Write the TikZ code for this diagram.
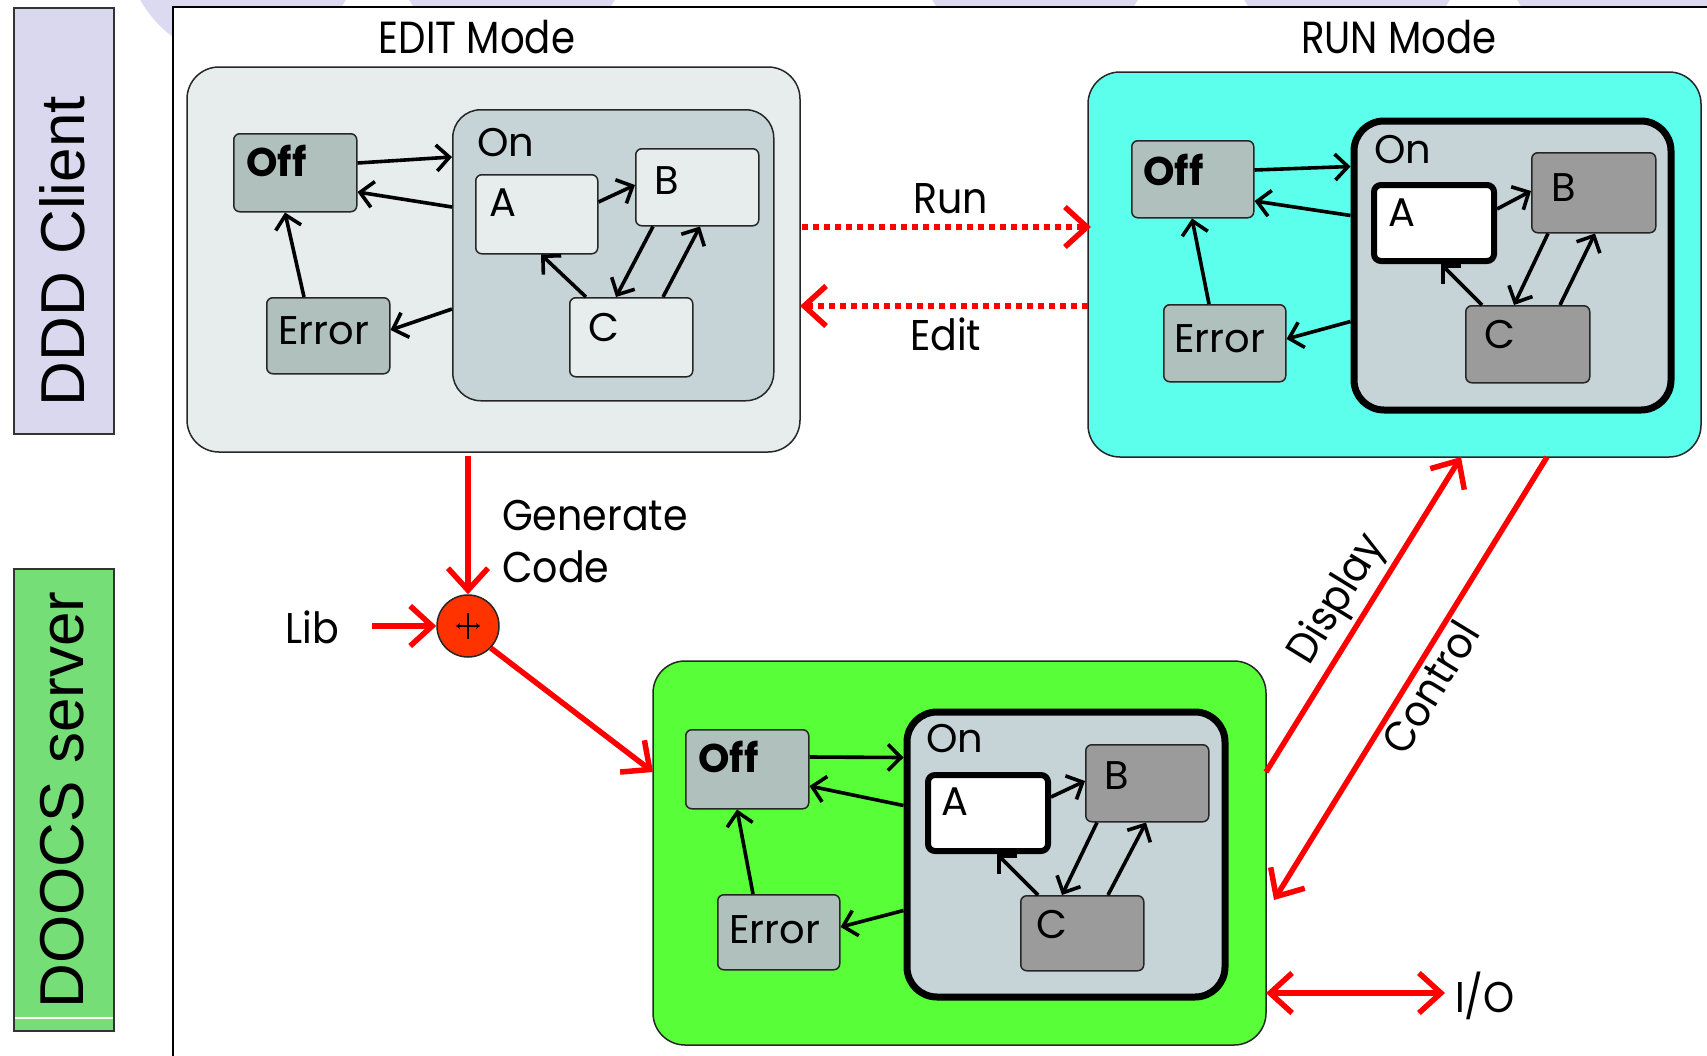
\documentclass[tikz,border=0pt]{standalone}
\usepackage{fontspec}
\setmainfont{Poppins}
\newfontfamily\arialf{Liberation Sans}
\newfontfamily\condf{Poppins}[FakeStretch=0.86]
\newfontfamily\outf{Poppins}[FakeStretch=0.92]
\usetikzlibrary{arrows.meta,calc}
\definecolor{lav}{HTML}{DAD8EE}
\definecolor{lavbg}{HTML}{DCDAF0}
\definecolor{doocs}{HTML}{76DE76}
\definecolor{editbg}{HTML}{E7EDED}
\definecolor{onfill}{HTML}{C6D4D8}
\definecolor{offfill}{HTML}{B0C0BD}
\definecolor{runbg}{HTML}{5CFFEB}
\definecolor{srvbg}{HTML}{58FF38}
\definecolor{dkgray}{HTML}{9B9B9B}
\definecolor{plusred}{HTML}{FF3300}
\definecolor{arrred}{HTML}{FF0000}
\tikzset{
  panel/.style={draw=black!85, line width=1.5pt, rounded corners=32pt, anchor=north west, inner sep=0pt, outer sep=0pt},
  onthin/.style={draw=black!85, line width=1.5pt, rounded corners=28pt, fill=onfill, anchor=north west, inner sep=0pt},
  onthick/.style={draw=black, line width=7pt, rounded corners=30pt, fill=onfill, anchor=north west, inner sep=0pt},
  sbox/.style={draw=black!85, line width=1.5pt, rounded corners=6pt, anchor=north west, inner sep=0pt},
  abox/.style={draw=black, line width=6pt, rounded corners=7pt, fill=white, anchor=north west, inner sep=0pt},
  lbl/.style={anchor=base west, inner sep=0pt, font=\fontsize{40}{48}\selectfont},
  blbl/.style={anchor=base west, inner sep=0pt, font=\fontsize{40}{48}\selectfont\bfseries},
  blk/.style={-{Straight Barb[length=13pt,width=26pt]}, line width=3.6pt},
  redarr/.style={draw=arrred, line width=5.5pt, -{Straight Barb[length=22pt,width=40pt]}},
  reddot/.style={redarr, dash pattern=on 6pt off 5pt},
  outlbl/.style={inner sep=0pt, font=\outf\fontsize{43}{52}\selectfont},
  sidebox/.style={draw=black!80, line width=2pt, anchor=north west, inner sep=0pt, minimum width=100pt},
  sidetxt/.style={rotate=90, inner sep=0pt, font=\arialf\fontsize{62}{70}\selectfont},
}
\begin{document}
\begin{tikzpicture}[x=1pt,y=-1pt]
\useasboundingbox (0,0) rectangle (1707,1055);
\fill[white] (0,0) rectangle (1707,1055);
% background decoration
\fill[lavbg] (243,-58) circle[radius=118pt];
\fill[lavbg] (512,-58) circle[radius=118pt];
\fill[lavbg] (1035,-58) circle[radius=118pt];
\fill[lavbg] (1347,-58) circle[radius=118pt];
\fill[lavbg] (1620,-58) circle[radius=118pt];
% frame
\fill[white] (173,7) rectangle (1720,1070);
\draw[line width=2pt] (173,1060) -- (173,7) -- (1720,7);
% side labels
\node[sidebox, fill=lav, minimum height=426pt] (dddbox) at (13,7) {};
\node[sidetxt] (dddtxt) at (62,251) {DDD Client};
\node[sidebox, fill=doocs, minimum height=462pt] (doocsbox) at (13,568) {};
\draw[white, line width=1.5pt] ($(doocsbox.south west)+(2,-14)$) -- ($(doocsbox.south east)+(-2,-14)$);
\node[sidetxt] (doocstxt) at (62,800) {DOOCS server};
% titles
\node[anchor=base, inner sep=0pt, font=\condf\fontsize{45}{52}\selectfont] (edittitle) at (477,53) {EDIT Mode};
\node[anchor=base, inner sep=0pt, font=\condf\fontsize{45}{52}\selectfont] (runtitle) at (1399,53) {RUN Mode};

% ================= EDIT panel
\node[panel, fill=editbg, minimum width=613pt, minimum height=385pt] (epanel) at (187,67) {};
\node[onthin, minimum width=321pt, minimum height=291pt] (eon) at (452,109) {};
\node[sbox, fill=offfill, minimum width=123pt, minimum height=78pt] (eoff) at (233,133) {};
\node[sbox, fill=offfill, minimum width=123pt, minimum height=76pt] (eerr) at (266,297) {};
\node[sbox, fill=editbg, minimum width=122pt, minimum height=79pt] (ea) at (475,174) {};
\node[sbox, fill=editbg, minimum width=123pt, minimum height=77pt] (eb) at (635,148) {};
\node[sbox, fill=editbg, minimum width=123pt, minimum height=79pt] (ec) at (569,297) {};
\node[blbl] (eofft) at ($(eoff.north west)+(13,43)$) {Off};
\node[lbl] (eerrt) at ($(eerr.north west)+(12,47)$) {Error};
\node[lbl] (eont) at (477,156) {On};
\node[lbl] (eat) at ($(ea.north west)+(14,42)$) {A};
\node[lbl] (ebt) at ($(eb.north west)+(19,46)$) {B};
\node[lbl] (ect) at ($(ec.north west)+(19,44)$) {C};
\draw[blk] ($(eoff.north east)+(0,30)$) -- ($(eon.north west)+(0,48)$);
\draw[blk] ($(eon.north west)+(0,98)$) -- ($(eoff.north east)+(0,59)$);
\draw[blk] ($(eerr.north west)+(38,0)$) -- ($(eoff.south west)+(52,0)$);
\draw[blk] ($(eon.north west)+(0,200)$) -- ($(eerr.north east)+(0,33)$);
\draw[blk] ($(ea.north east)+(0,28)$) -- ($(eb.north west)+(0,37)$);
\draw[blk] ($(ec.north west)+(17,0)$) -- ($(ea.south west)+(66,0)$);
\draw[blk] ($(eb.south west)+(18,0)$) -- ($(ec.north west)+(47,0)$);
\draw[blk] ($(ec.north west)+(94,0)$) -- ($(eb.south west)+(65,0)$);

% ================= RUN panel
\node[panel, fill=runbg, minimum width=613pt, minimum height=385pt] (rpanel) at (1088,72) {};
\node[onthick, minimum width=317pt, minimum height=289pt] (ron) at (1350.5,117.5) {};
\node[sbox, fill=offfill, minimum width=122pt, minimum height=77pt] (roff) at (1131,140) {};
\node[sbox, fill=offfill, minimum width=122pt, minimum height=77pt] (rerr) at (1163,304) {};
\node[abox, minimum width=120pt, minimum height=76pt] (ra) at (1371,182) {};
\node[sbox, fill=dkgray, minimum width=124pt, minimum height=80pt] (rb) at (1531,152) {};
\node[sbox, fill=dkgray, minimum width=124pt, minimum height=77pt] (rc) at (1465,305) {};
\node[blbl] (rofft) at ($(roff.north west)+(12,45)$) {Off};
\node[lbl] (rerrt) at ($(rerr.north west)+(11,48)$) {Error};
\node[lbl] (ront) at (1374,163) {On};
\node[lbl] (rat) at ($(ra.north west)+(17,44)$) {A};
\node[lbl] (rbt) at ($(rb.north west)+(20,49)$) {B};
\node[lbl] (rct) at ($(rc.north west)+(19,43)$) {C};
\draw[blk] ($(roff.north east)+(0,30)$) -- ($(ron.north west)+(0,49)$);
\draw[blk] ($(ron.north west)+(0,98)$) -- ($(roff.north east)+(0,61)$);
\draw[blk] ($(rerr.north west)+(46,0)$) -- ($(roff.south west)+(61,0)$);
\draw[blk] ($(ron.north west)+(0,204)$) -- ($(rerr.north east)+(0,35)$);
\draw[blk] ($(ra.north east)+(0,27)$) -- ($(rb.north west)+(0,39)$);
\draw[blk] ($(rc.north west)+(17,0)$) -- ($(ra.south west)+(70,0)$);
\draw[blk] ($(rb.south west)+(17,0)$) -- ($(rc.north west)+(49,0)$);
\draw[blk] ($(rc.north west)+(95,0)$) -- ($(rb.south west)+(64,0)$);

% ================= DOOCS server panel
\node[panel, fill=srvbg, minimum width=613pt, minimum height=384pt] (gpanel) at (653,661) {};
\node[onthick, minimum width=318pt, minimum height=285pt] (gon) at (903.5,708.5) {};
\node[sbox, fill=offfill, minimum width=123pt, minimum height=79pt] (goff) at (685,729) {};
\node[sbox, fill=offfill, minimum width=122pt, minimum height=75pt] (gerr) at (717,894) {};
\node[abox, minimum width=120pt, minimum height=76pt] (ga) at (925,772) {};
\node[sbox, fill=dkgray, minimum width=123pt, minimum height=77pt] (gb) at (1085,744) {};
\node[sbox, fill=dkgray, minimum width=123pt, minimum height=75pt] (gc) at (1020,895) {};
\node[blbl] (gofft) at ($(goff.north west)+(13,43)$) {Off};
\node[lbl] (gerrt) at ($(gerr.north west)+(12,49)$) {Error};
\node[lbl] (gont) at (926,752) {On};
\node[lbl] (gat) at ($(ga.north west)+(16,43)$) {A};
\node[lbl] (gbt) at ($(gb.north west)+(19,45)$) {B};
\node[lbl] (gct) at ($(gc.north west)+(16,43)$) {C};
\draw[blk] ($(goff.north east)+(0,28)$) -- ($(gon.north west)+(0,49)$);
\draw[blk] ($(gon.north west)+(0,97)$) -- ($(goff.north east)+(0,57)$);
\draw[blk] ($(gerr.north west)+(36,0)$) -- ($(goff.south west)+(52,0)$);
\draw[blk] ($(gon.north west)+(0,202)$) -- ($(gerr.north east)+(0,33)$);
\draw[blk] ($(ga.north east)+(0,25)$) -- ($(gb.north west)+(0,37)$);
\draw[blk] ($(gc.north west)+(18,0)$) -- ($(ga.south west)+(72,0)$);
\draw[blk] ($(gb.south west)+(12,0)$) -- ($(gc.north west)+(42,0)$);
\draw[blk] ($(gc.north west)+(88,0)$) -- ($(gb.south west)+(61,0)$);

% ================= red connectors
\draw[reddot] ($(epanel.north east)+(2,160)$) -- ($(rpanel.north west)+(3,155)$);
\draw[reddot] ($(rpanel.north west)+(0,234)$) -- ($(epanel.north east)+(0,239)$);
\node[anchor=base west, outlbl] (runlbl) at (913,213) {Run};
\node[anchor=base west, outlbl] (editlbl) at (910,350) {Edit};

\node[circle, draw=black!85, line width=1.5pt, fill=plusred, minimum size=62pt, inner sep=0pt] (plus) at (468,626) {};
\draw[line width=2.5pt, {Stealth[length=4pt,width=6pt]}-{Stealth[length=4pt,width=6pt]}] ($(plus.center)+(-12,0)$) -- ($(plus.center)+(12,0)$);
\draw[line width=2.5pt] ($(plus.center)+(0,-13)$) -- ($(plus.center)+(0,13)$);

\draw[redarr] ($(epanel.south west)+(281,4)$) -- (plus.north);
\node[anchor=base west, outlbl] (genlbl) at (502,530) {Generate};
\node[anchor=base west, outlbl] (codelbl) at (502,582) {Code};
\node[anchor=base west, outlbl] (liblbl) at (285,643) {Lib};
\draw[redarr] ($(plus.west)+(-64,0)$) -- (plus.west);
\draw[redarr] (plus.-44) -- ($(gpanel.north west)+(0,111)$);

\draw[redarr] ($(gpanel.north east)+(0,111)$) -- ($(rpanel.south west)+(373,0)$);
\draw[redarr] ($(rpanel.south west)+(459,0)$) -- ($(gpanel.north east)+(8,239)$);
\node[outlbl, rotate=58.5] (displbl) at (1338,600) {Display};
\node[outlbl, rotate=58.5] (ctrllbl) at (1430,687) {Control};

\node[anchor=base west, outlbl] (iolbl) at (1455,1012) {I/O};
\draw[redarr, {Straight Barb[length=22pt,width=40pt]}-{Straight Barb[length=22pt,width=40pt]}] ($(gpanel.north east)+(0,332)$) -- ($(gpanel.north east)+(179,332)$);
\end{tikzpicture}
\end{document}
